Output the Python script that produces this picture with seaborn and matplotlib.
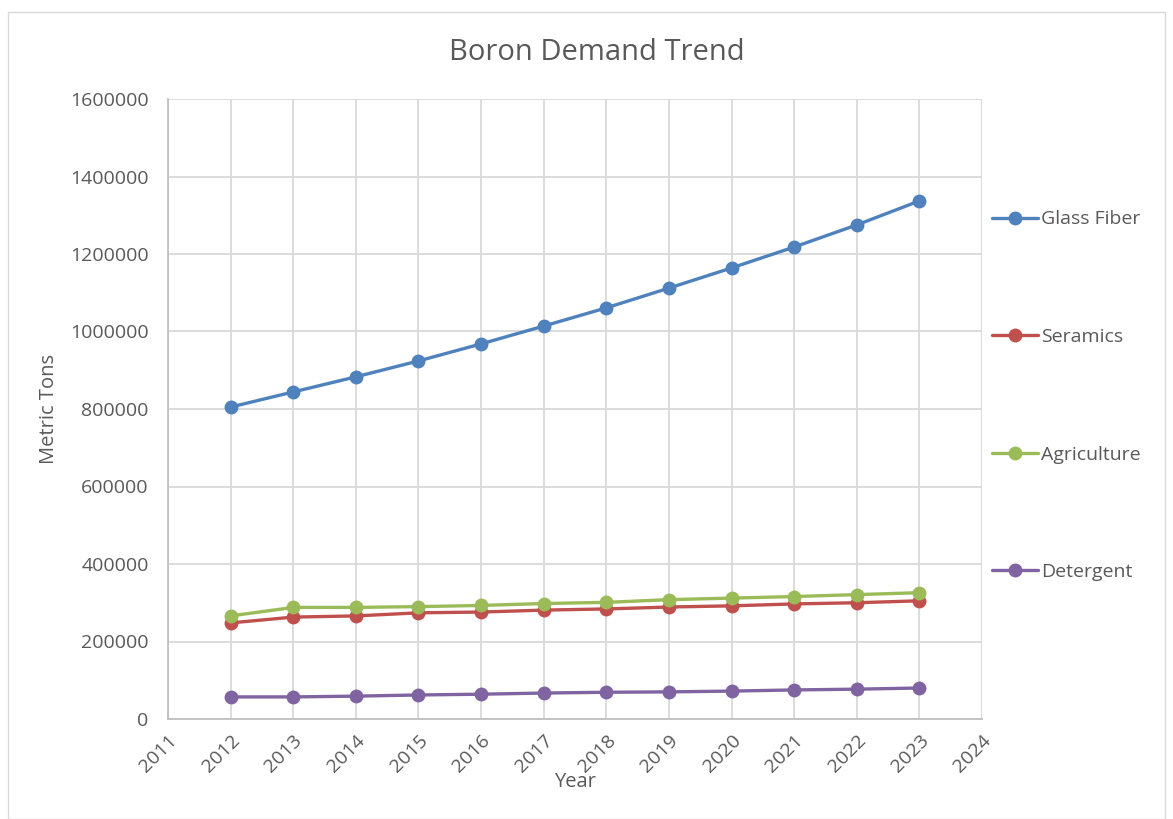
import pandas as pd
import matplotlib.pyplot as plt
import seaborn as sns
from matplotlib.patches import Rectangle

years = [2012, 2013, 2014, 2015, 2016, 2017, 2018, 2019, 2020, 2021, 2022, 2023]
glass_fiber = [805000, 844000, 883000, 924000, 968000, 1014000, 1061000, 1112000, 1164000, 1218000, 1275000, 1337000]
seramics = [248000, 263000, 266000, 274000, 276000, 281000, 284000, 289000, 292000, 297000, 300000, 305000]
agriculture = [266000, 288000, 288000, 290000, 293000, 298000, 301000, 308000, 312000, 316000, 321000, 326000]
detergent = [57000, 57000, 59000, 62000, 64000, 67000, 69000, 70000, 72000, 75000, 77000, 80000]
series_names = ['Glass Fiber', 'Seramics', 'Agriculture', 'Detergent']
colors = ['#4F81BD', '#C0504D', '#9BBB59', '#8064A2']
x_ticks = list(range(2011, 2025))
y_ticks = [0, 200000, 400000, 600000, 800000, 1000000, 1200000, 1400000, 1600000]

rows = []
for name, vals in zip(series_names, [glass_fiber, seramics, agriculture, detergent]):
    for y, v in zip(years, vals):
        rows.append({'Year': y, 'Tons': v, 'Series': name})
df = pd.DataFrame(rows)

sns.set_style('white')
plt.rcParams['font.family'] = ['Open Sans', 'DejaVu Sans']
txt = '#595959'

fig = plt.figure(figsize=(11.73, 8.19), dpi=100)
ax = fig.add_axes([168/1173, 1-719/819, (982-168)/1173, (719-99)/819])
fig.patches.append(Rectangle((8/1173, 0), 1-16/1173, 1-12/819, transform=fig.transFigure,
                             fill=False, edgecolor='#D9D9D9', linewidth=1))

sns.lineplot(data=df, x='Year', y='Tons', hue='Series', palette=colors, marker='o',
             markersize=10, markeredgewidth=0, linewidth=2.4, ax=ax, legend=False)

ax.set_xlim(2011, 2024)
ax.set_ylim(0, 1600000)
ax.set_xticks(x_ticks)
ax.set_xticklabels([str(t) for t in x_ticks], rotation=45, ha='right', rotation_mode='anchor')
ax.set_yticks(y_ticks)
ax.set_yticklabels([str(t) for t in y_ticks])
ax.tick_params(axis='both', colors=txt, labelsize=14, length=0, pad=9)
ax.tick_params(axis='y', pad=14)
ax.grid(True, color='#D9D9D9', linewidth=1.3)
for s in ['top', 'right']:
    ax.spines[s].set_visible(False)
for s in ['left', 'bottom']:
    ax.spines[s].set_color('#BFBFBF')
    ax.spines[s].set_linewidth(1.3)

ax.set_xlabel('Year', color=txt, fontsize=14.5)
ax.xaxis.set_label_coords(0.5, -0.085)
ax.set_ylabel('Metric Tons', color=txt, fontsize=14.5)
ax.yaxis.set_label_coords(-0.134, 0.5)
fig.text(0.5085, 1-52/819, 'Boron Demand Trend', ha='center', va='center', color=txt, fontsize=21)

handles = [plt.Line2D([], [], color=c, marker='o', markersize=10, linewidth=2.4, markeredgewidth=0)
           for c in colors]
leg = fig.legend(handles, series_names, loc='upper left', bbox_to_anchor=(974/1173, 1-193/819),
                 frameon=False, fontsize=14, labelspacing=5.12, handlelength=2.4,
                 handletextpad=0.15, labelcolor=txt)

fig.savefig('out.png', dpi=100)
